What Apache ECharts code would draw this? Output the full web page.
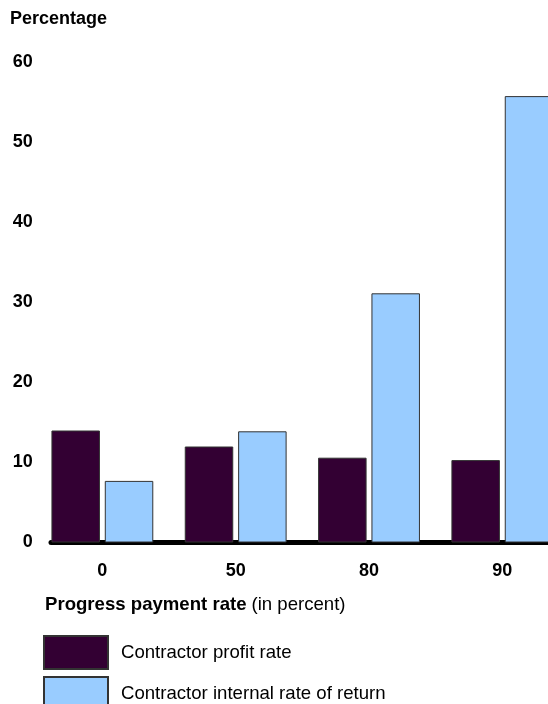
<!DOCTYPE html>
<html>
<head>
<meta charset="utf-8">
<script src="https://cdn.jsdelivr.net/npm/echarts@6/dist/echarts.min.js"></script>
<style>
  html, body { margin: 0; padding: 0; background: #fff; }
  #main { width: 548px; height: 704px; }
</style>
</head>
<body>
<div id="main"></div>
<script>
// 进度付款率（类目）
var categories = ['0', '50', '80', '90'];
// 承包商利润率
var profitRate = [14.0, 12.0, 10.6, 10.3];
// 承包商内部收益率
var internalReturn = [7.7, 13.9, 31.15, 55.8];
var yTicks = [0, 10, 20, 30, 40, 50, 60];

var seriesNames = ['Contractor profit rate', 'Contractor internal rate of return'];
var font = 'Liberation Sans, Arial, sans-serif';

var chart = echarts.init(document.getElementById('main'));

// 图例（每项单独一个，避免换列）
function legendItem(name, top) {
    return {
        orient: 'vertical',
        left: 43,
        top: top,
        icon: 'rect',
        itemWidth: 64,
        itemHeight: 33,
        padding: 0,
        data: [name],
        textStyle: { fontSize: 18.6, color: '#000', fontFamily: font, padding: [0, 0, 0, 8] }
    };
}

var option = {
    animation: false,
    textStyle: { fontFamily: font },
    title: [{
        text: 'Percentage',
        left: 10,
        top: 10,
        padding: 0,
        textStyle: { fontSize: 18, fontWeight: 'bold', color: '#000', fontFamily: font }
    }, {
        text: '{b|Progress payment rate} {n|(in percent)}',
        left: 45,
        top: 595,
        padding: 0,
        textStyle: {
            rich: {
                b: { fontSize: 18.6, fontWeight: 'bold', color: '#000', fontFamily: font },
                n: { fontSize: 18.6, fontWeight: 'normal', color: '#000', fontFamily: font }
            }
        }
    }],
    legend: [legendItem(seriesNames[0], 635), legendItem(seriesNames[1], 676)],
    grid: [{
        left: 35.7,
        top: 62.5,
        width: 533.3,
        height: 480,
        outerBoundsMode: 'none'
    }, {
        // 底部粗基线
        left: 51,
        right: 0,
        top: 62.5,
        height: 480,
        outerBoundsMode: 'none'
    }],
    xAxis: [{
        type: 'category',
        gridIndex: 0,
        data: categories,
        axisLine: { show: false },
        axisTick: { show: false },
        axisLabel: { fontSize: 18, fontWeight: 'bold', color: '#000', margin: 20, fontFamily: font }
    }, {
        type: 'value',
        gridIndex: 1,
        min: 0,
        max: 1,
        axisLine: { show: true, onZero: false, lineStyle: { color: '#000', width: 5 } },
        axisTick: { show: false },
        axisLabel: { show: false },
        splitLine: { show: false }
    }],
    yAxis: [{
        type: 'value',
        gridIndex: 0,
        min: yTicks[0],
        max: yTicks[yTicks.length - 1],
        interval: 10,
        axisLine: { show: false },
        axisTick: { show: false },
        splitLine: { show: false },
        axisLabel: { fontSize: 18, fontWeight: 'bold', color: '#000', margin: 3, fontFamily: font }
    }, {
        type: 'value',
        gridIndex: 1,
        min: 0,
        max: 1,
        show: false
    }],
    series: [{
        name: seriesNames[0],
        type: 'bar',
        xAxisIndex: 0,
        yAxisIndex: 0,
        data: profitRate,
        barWidth: 48.5,
        barGap: '10%',
        itemStyle: { color: '#330033', borderColor: '#333333', borderWidth: 1 }
    }, {
        name: seriesNames[1],
        type: 'bar',
        xAxisIndex: 0,
        yAxisIndex: 0,
        data: internalReturn,
        barWidth: 48.5,
        barGap: '10%',
        itemStyle: { color: '#99ccff', borderColor: '#333333', borderWidth: 1 }
    }]
};

chart.setOption(option);
</script>
</body>
</html>
